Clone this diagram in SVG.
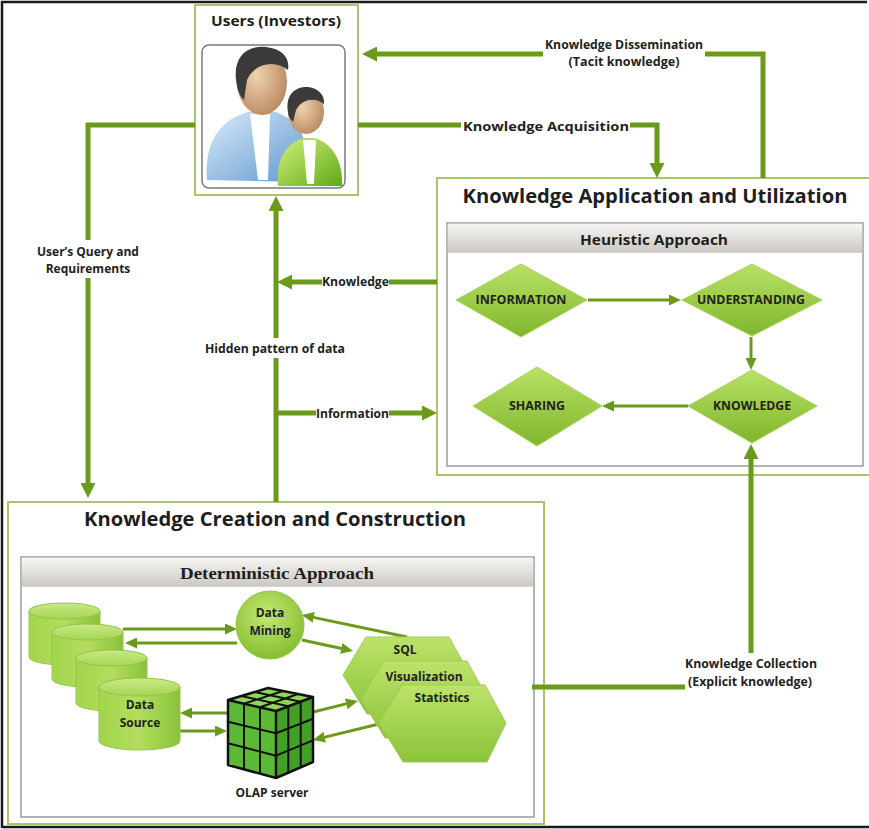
<svg xmlns="http://www.w3.org/2000/svg" width="869" height="829" viewBox="0 0 869 829">
  <style>
    .box { fill: #ffffff; stroke: #a9c66c; stroke-width: 2; }
    .panel { fill: #ffffff; stroke: #9a9a9a; stroke-width: 1.5; }
    .conn { fill: none; stroke: #6b9a1b; stroke-width: 5; stroke-linejoin: miter; }
    .thin { fill: none; stroke: #6b9a1b; stroke-width: 3; }
    .title { font-family: "Open Sans", "Liberation Sans", sans-serif; font-weight: bold; fill: #1e1e1e; text-anchor: middle; }
    .serif { font-family: "Liberation Serif", "Times New Roman", serif; font-weight: bold; fill: #1e1e1e; text-anchor: middle; }
    .lbl { font-family: "Open Sans", "Liberation Sans", sans-serif; font-weight: bold; font-size: 12px; fill: #222222; text-anchor: middle; }
    .dia { fill: url(#diaFill); stroke: #a9d35a; stroke-width: 1; }
    .hex { fill: url(#hexFill); stroke: #9fcb55; stroke-width: 1; }
    .cyl { fill: url(#cylBody); stroke: #96c64a; stroke-width: 1; }
    .cyltop { fill: url(#cylTop); stroke: #93c446; stroke-width: 1; }
    .grid { fill: none; stroke: #111111; stroke-width: 2; }
  </style>
  <defs>
    <marker id="arrowBig" viewBox="0 0 15 15" markerWidth="15" markerHeight="15" markerUnits="userSpaceOnUse" refX="5" refY="7.5" orient="auto">
      <path d="M0,0 L15,7.5 L0,15 Z" fill="#6b9a1b"/>
    </marker>
    <marker id="arrowSmall" viewBox="0 0 12 11" markerWidth="12" markerHeight="11" markerUnits="userSpaceOnUse" refX="4" refY="5.5" orient="auto">
      <path d="M0,0 L12,5.5 L0,11 Z" fill="#6b9a1b"/>
    </marker>
    <linearGradient id="header" x1="0" y1="0" x2="0" y2="1">
      <stop offset="0" stop-color="#f7f6f4"/>
      <stop offset="1" stop-color="#cbc7c2"/>
    </linearGradient>
    <linearGradient id="diaFill" x1="0" y1="0" x2="0" y2="1">
      <stop offset="0" stop-color="#b9e166"/>
      <stop offset="1" stop-color="#80b62c"/>
    </linearGradient>
    <linearGradient id="hexFill" x1="0" y1="0" x2="0" y2="1">
      <stop offset="0" stop-color="#bde36a"/>
      <stop offset="1" stop-color="#8bc33a"/>
    </linearGradient>
    <linearGradient id="cylBody" x1="0" y1="0" x2="1" y2="0">
      <stop offset="0" stop-color="#a3d54d"/>
      <stop offset="0.5" stop-color="#b3dd5e"/>
      <stop offset="1" stop-color="#8ac23a"/>
    </linearGradient>
    <linearGradient id="cylTop" x1="0" y1="0" x2="0" y2="1">
      <stop offset="0" stop-color="#c9ea84"/>
      <stop offset="1" stop-color="#a6d457"/>
    </linearGradient>
    <radialGradient id="circFill" cx="0.45" cy="0.35" r="0.7">
      <stop offset="0" stop-color="#c4e874"/>
      <stop offset="1" stop-color="#82bb2d"/>
    </radialGradient>
    <linearGradient id="shirtBlue" x1="0" y1="0" x2="1" y2="1">
      <stop offset="0" stop-color="#d9ebfa"/>
      <stop offset="1" stop-color="#5f97cf"/>
    </linearGradient>
    <linearGradient id="shirtGreen" x1="0" y1="0" x2="1" y2="1">
      <stop offset="0" stop-color="#d4f07a"/>
      <stop offset="1" stop-color="#5fa918"/>
    </linearGradient>
    <radialGradient id="skin" cx="0.4" cy="0.4" r="0.7">
      <stop offset="0" stop-color="#f0d2b0"/>
      <stop offset="1" stop-color="#b5845a"/>
    </radialGradient>
  </defs>

  <!-- page frame -->
  <path d="M2,828 V2 H867 M2,827 H869" fill="none" stroke="#1a1a1a" stroke-width="2.5"/>

  <!-- containers -->
  <g id="users">
    <rect class="box" x="195" y="5" width="163" height="190"/>
    <text class="title" x="276" y="26" font-size="15" textLength="130" lengthAdjust="spacingAndGlyphs">Users (Investors)</text>
    <rect x="202" y="45" width="143" height="143" rx="7" fill="#ffffff" stroke="#7a7a7a" stroke-width="1.5"/>
    <!-- adult figure -->
    <path d="M207,180 C204,145 218,120 248,112 L276,112 C298,120 308,138 306,160 L302,182 Z" fill="url(#shirtBlue)"/>
    <path d="M250,114 L258,180 L268,180 L270,114 Z" fill="#ffffff"/>
    <ellipse cx="262" cy="82" rx="25" ry="33" fill="url(#skin)"/>
    <path d="M237,86 C231,58 246,45 266,47 C283,49 290,58 288,70 C276,60 255,62 247,80 L244,100 C240,96 238,92 237,86 Z" fill="#3b3b3b"/>
    <!-- child figure -->
    <path d="M278,186 C275,158 288,142 304,138 L314,138 C332,143 343,160 342,186 Z" fill="url(#shirtGreen)"/>
    <path d="M303,140 L307,184 L314,184 L316,140 Z" fill="#ffffff"/>
    <ellipse cx="306" cy="112" rx="18" ry="22" fill="url(#skin)"/>
    <path d="M288,112 C285,94 296,86 308,87 C319,88 325,96 324,104 C316,97 302,98 296,110 L293,122 C290,119 288,116 288,112 Z" fill="#3b3b3b"/>
  </g>

  <g id="application">
    <rect class="box" x="437" y="178" width="440" height="297"/>
    <text class="title" x="655" y="203" font-size="19" textLength="385" lengthAdjust="spacingAndGlyphs">Knowledge Application and Utilization</text>
    <rect class="panel" x="447" y="223" width="416" height="243"/>
    <rect x="447.75" y="223.75" width="414.5" height="29" fill="url(#header)"/>
    <text class="title" x="654" y="245" font-size="14" textLength="148" lengthAdjust="spacingAndGlyphs">Heuristic Approach</text>
  </g>

  <g id="creation">
    <rect class="box" x="8" y="502" width="536" height="322"/>
    <text class="title" x="275" y="526" font-size="19" textLength="382" lengthAdjust="spacingAndGlyphs">Knowledge Creation and Construction</text>
    <rect class="panel" x="21" y="557" width="513" height="260"/>
    <rect x="21.75" y="557.75" width="511.5" height="29" fill="url(#header)"/>
    <text class="serif" x="277" y="579" font-size="17" textLength="194" lengthAdjust="spacingAndGlyphs">Deterministic Approach</text>
  </g>

  <!-- connectors -->
  <g id="connectors">
    <path class="conn" d="M195,125 H88 V240"/>
    <path class="conn" d="M88,278 V488" marker-end="url(#arrowBig)"/>
    <path class="conn" d="M276,502 V358"/>
    <path class="conn" d="M276,338 V206" marker-end="url(#arrowBig)"/>
    <path class="conn" d="M437,282 H389"/>
    <path class="conn" d="M322,282 H287" marker-end="url(#arrowBig)"/>
    <path class="conn" d="M276,413 H316"/>
    <path class="conn" d="M389,413 H427" marker-end="url(#arrowBig)"/>
    <path class="conn" d="M358,125 H461"/>
    <path class="conn" d="M630,125 H657 V168" marker-end="url(#arrowBig)"/>
    <path class="conn" d="M763,178 V54 H705"/>
    <path class="conn" d="M543,54 H372" marker-end="url(#arrowBig)"/>
    <path class="conn" d="M532,687 H685"/>
    <path class="conn" d="M751,653 V454" marker-end="url(#arrowBig)"/>

    <path class="thin" d="M588,300 H673" marker-end="url(#arrowSmall)"/>
    <path class="thin" d="M751,337 V362" marker-end="url(#arrowSmall)"/>
    <path class="thin" d="M688,406 H610" marker-end="url(#arrowSmall)"/>

    <path class="thin" d="M123,629 H229" marker-end="url(#arrowSmall)"/>
    <path class="thin" d="M237,643 H133" marker-end="url(#arrowSmall)"/>
    <path class="thin" d="M302,640 L345.2,649.3" marker-end="url(#arrowSmall)"/>
    <path class="thin" d="M407,637 L309.8,616.6" marker-end="url(#arrowSmall)"/>
    <path class="thin" d="M227,713 H188" marker-end="url(#arrowSmall)"/>
    <path class="thin" d="M180,731 H219" marker-end="url(#arrowSmall)"/>
    <path class="thin" d="M313,712 L350.2,702.9" marker-end="url(#arrowSmall)"/>
    <path class="thin" d="M379,724 L320.8,738.1" marker-end="url(#arrowSmall)"/>
  </g>

  <!-- connector labels -->
  <g id="labels">
    <text class="lbl" x="88" y="256">User’s Query and</text>
    <text class="lbl" x="88" y="273">Requirements</text>
    <text class="lbl" x="275" y="353" textLength="140" lengthAdjust="spacingAndGlyphs">Hidden pattern of data</text>
    <text class="lbl" x="355.5" y="286" textLength="67" lengthAdjust="spacingAndGlyphs">Knowledge</text>
    <text class="lbl" x="352.5" y="418" textLength="73" lengthAdjust="spacingAndGlyphs">Information</text>
    <text class="lbl" x="546" y="131" textLength="166" lengthAdjust="spacingAndGlyphs">Knowledge Acquisition</text>
    <text class="lbl" x="624" y="49" textLength="158" lengthAdjust="spacingAndGlyphs">Knowledge Dissemination</text>
    <text class="lbl" x="624" y="66" textLength="111" lengthAdjust="spacingAndGlyphs">(Tacit knowledge)</text>
    <text class="lbl" x="751" y="668" textLength="132" lengthAdjust="spacingAndGlyphs">Knowledge Collection</text>
    <text class="lbl" x="750" y="686" textLength="124" lengthAdjust="spacingAndGlyphs">(Explicit knowledge)</text>
  </g>

  <!-- heuristic nodes -->
  <g id="information">
    <polygon class="dia" points="456,300 521,264 587,300 521,337"/>
    <text class="lbl" x="521" y="304" textLength="91" lengthAdjust="spacingAndGlyphs">INFORMATION</text>
  </g>
  <g id="understanding">
    <polygon class="dia" points="682,300 752,264 822,300 752,336"/>
    <text class="lbl" x="751" y="304" textLength="108" lengthAdjust="spacingAndGlyphs">UNDERSTANDING</text>
  </g>
  <g id="knowledge">
    <polygon class="dia" points="688,406 752,370 817,406 752,443"/>
    <text class="lbl" x="752" y="410" textLength="78" lengthAdjust="spacingAndGlyphs">KNOWLEDGE</text>
  </g>
  <g id="sharing">
    <polygon class="dia" points="473,406 537,367 602,406 537,446"/>
    <text class="lbl" x="537" y="410" textLength="56" lengthAdjust="spacingAndGlyphs">SHARING</text>
  </g>

  <!-- deterministic nodes -->
  <g id="data-source">
    <path class="cyl" d="M29,611 V657 A35.5,8 0 0 0 100,657 V611 Z"/>
    <ellipse class="cyltop" cx="64.5" cy="611" rx="35.5" ry="8"/>
    <path class="cyl" d="M52,632 V679 A35.5,8 0 0 0 123,679 V632 Z"/>
    <ellipse class="cyltop" cx="87.5" cy="632" rx="35.5" ry="8"/>
    <path class="cyl" d="M76,658 V703 A35.5,8 0 0 0 147,703 V658 Z"/>
    <ellipse class="cyltop" cx="111.5" cy="658" rx="35.5" ry="8"/>
    <path class="cyl" d="M99,687 V741 A40.5,9 0 0 0 180,741 V687 Z"/>
    <ellipse class="cyltop" cx="139.5" cy="687" rx="40.5" ry="9"/>
    <text class="lbl" x="140" y="709">Data</text>
    <text class="lbl" x="140" y="727">Source</text>
  </g>

  <g id="data-mining">
    <circle cx="270" cy="625" r="34" fill="url(#circFill)" stroke="#93c446" stroke-width="1"/>
    <text class="lbl" x="270" y="617">Data</text>
    <text class="lbl" x="270" y="635">Mining</text>
  </g>

  <g id="tools">
    <polygon class="hex" points="343,675 366,637 449,637 470,675 451,714 367,714"/>
    <polygon class="hex" points="361,699 384,661 467,661 488,699 469,738 385,738"/>
    <polygon class="hex" points="379,723 402,685 485,685 506,723 487,762 403,762"/>
    <text class="lbl" x="405" y="654">SQL</text>
    <text class="lbl" x="424" y="681">Visualization</text>
    <text class="lbl" x="442" y="702">Statistics</text>
  </g>

  <g id="olap-server">
    <polygon points="228,700 268,688 313,697 276,711" fill="#8fd75a"/>
    <polygon points="228,700 276,711 276,778 228,765" fill="#5cb837"/>
    <polygon points="276,711 313,697 313,762 276,778" fill="#43a026"/>
    <path class="grid" d="M244,703.7 L244,769.3 M260,707.3 L260,773.7 M228,721.7 L276,733.3 M228,743.3 L276,755.7"/>
    <path class="grid" d="M288.3,706.3 L288.3,772.7 M300.7,701.7 L300.7,767.3 M276,733.3 L313,718.7 M276,755.7 L313,740.3"/>
    <path class="grid" d="M241.3,696 L288.3,706.3 M254.7,692 L300.7,701.7 M244,703.7 L283,691 M260,707.3 L298,694"/>
    <path d="M228,700 L268,688 L313,697 L313,762 L276,778 L228,765 Z M228,700 L276,711 L313,697 M276,711 V778" fill="none" stroke="#111111" stroke-width="2.5" stroke-linejoin="round"/>
    <text class="lbl" x="272" y="797">OLAP server</text>
  </g>
</svg>
